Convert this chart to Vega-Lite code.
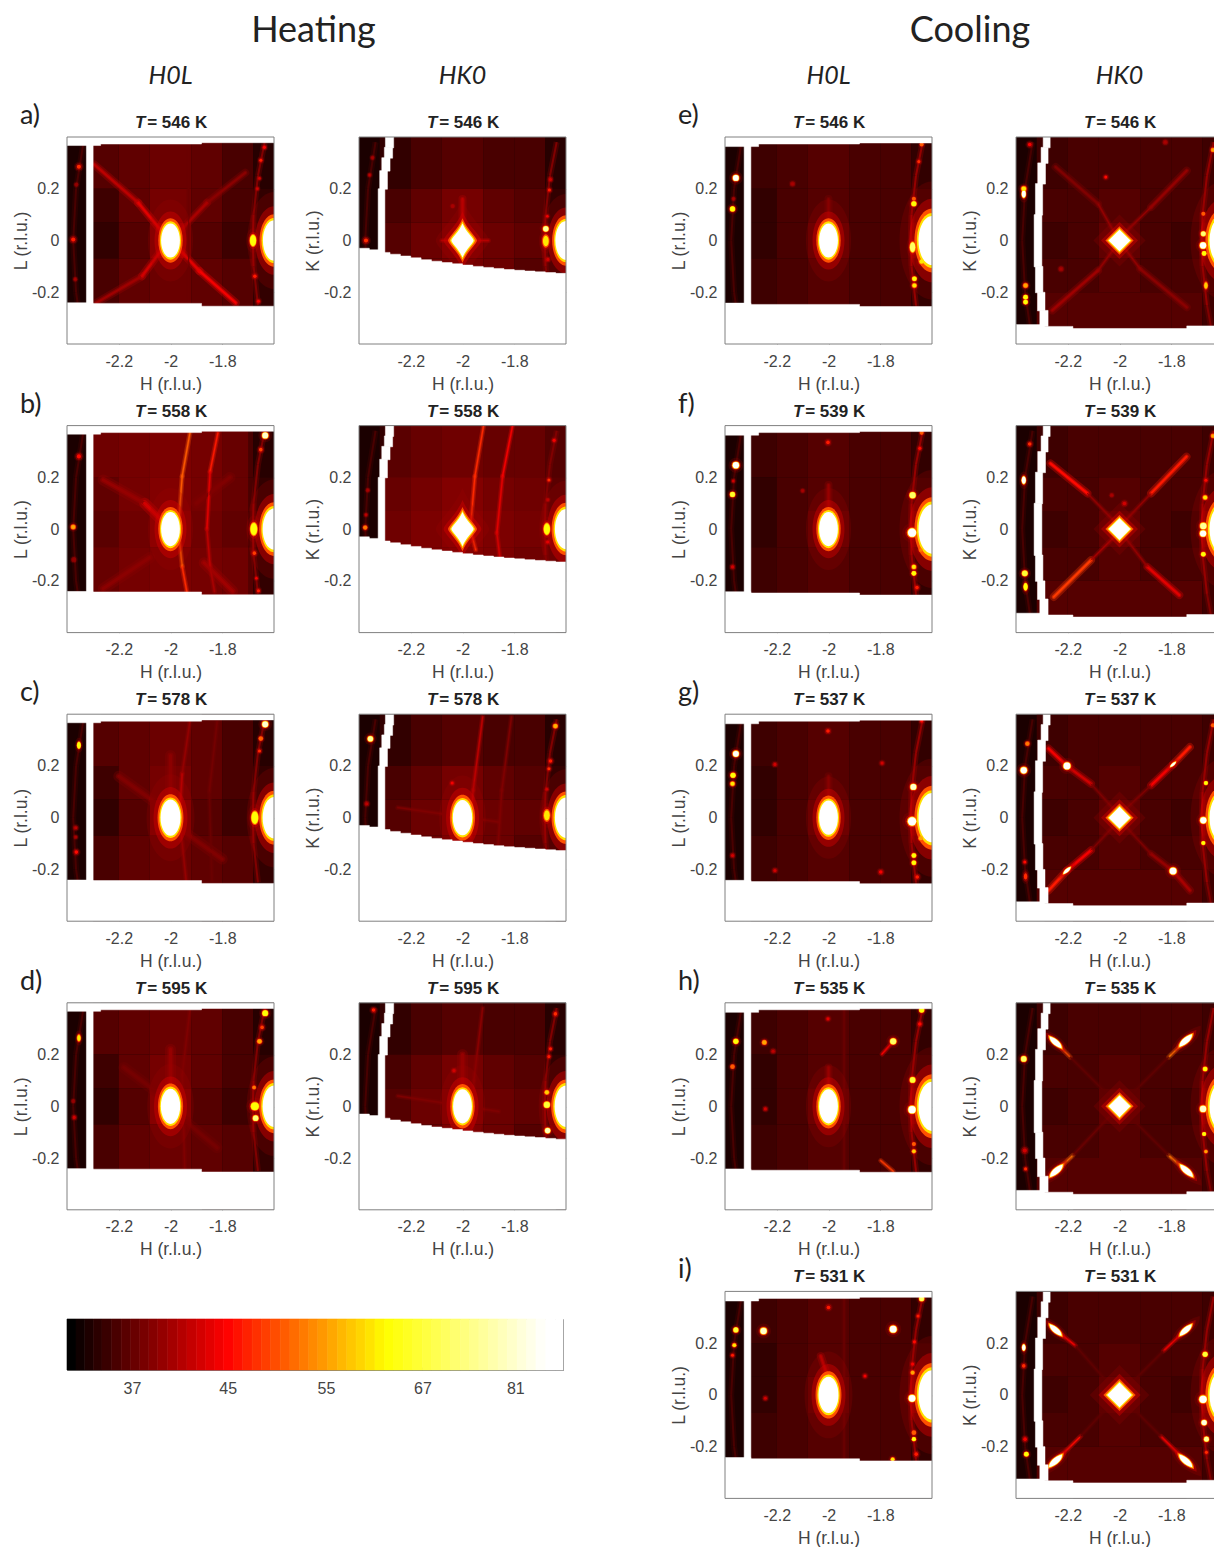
{"$schema":"https://vega.github.io/schema/vega-lite/v6.json","background":"white","padding":{"left":12,"top":12,"right":0,"bottom":0},"spacing":103,
"config":{"view":{"stroke":null},"axis":{"labelFont":"Liberation Sans","titleFont":"Liberation Sans","labelFontSize":16,"titleFontSize":17.5,"titleFontWeight":"normal","labelColor":"#444","titleColor":"#444","grid":true,"gridColor":"#888","gridOpacity":0.3,"domain":false,"tickColor":"#808080","tickSize":-3,"zindex":1,"labelPadding":11},"axisX":{"labelPadding":12,"titlePadding":6},"axisY":{"titlePadding":1}},
"datasets":{
"fr":[{"x":-2.4,"x2":-1.6,"y":-0.4,"y2":0.4,"v":33.5}],
"rh":[{"x":-1.636,"y":0.38,"x2":-1.662,"y2":0.25,"v":38},{"x":-1.662,"y":0.25,"x2":-1.679,"y2":0.1,"v":38},{"x":-1.679,"y":0.1,"x2":-1.682,"y2":0,"v":39},{"x":-1.682,"y":0,"x2":-1.679,"y2":-0.1,"v":39},{"x":-1.679,"y":-0.1,"x2":-1.662,"y2":-0.25,"v":38},{"x":-2.336,"y":0.38,"x2":-2.365,"y2":0.2,"v":35.5},{"x":-2.365,"y":0.2,"x2":-2.376,"y2":0,"v":35.5},{"x":-2.376,"y":0,"x2":-2.365,"y2":-0.2,"v":35.5},{"x":-2.365,"y":-0.2,"x2":-2.346,"y2":-0.33,"v":35.5}],
"rc":[{"x":-1.636,"y":0.38,"x2":-1.662,"y2":0.25,"v":39},{"x":-1.662,"y":0.25,"x2":-1.679,"y2":0.1,"v":39},{"x":-1.679,"y":0.1,"x2":-1.682,"y2":0,"v":40},{"x":-1.682,"y":0,"x2":-1.679,"y2":-0.1,"v":40},{"x":-1.679,"y":-0.1,"x2":-1.662,"y2":-0.25,"v":39},{"x":-1.662,"y":-0.25,"x2":-1.647,"y2":-0.33,"v":38},{"x":-2.336,"y":0.38,"x2":-2.365,"y2":0.2,"v":35.5},{"x":-2.365,"y":0.2,"x2":-2.376,"y2":0,"v":35.5},{"x":-2.376,"y":0,"x2":-2.365,"y2":-0.2,"v":35.5},{"x":-2.365,"y":-0.2,"x2":-2.346,"y2":-0.33,"v":35.5}],
"m1":[{"x":-2.4,"x2":-1.6,"y":0.378,"y2":0.4},{"x":-2.4,"x2":-1.88,"y":0.373,"y2":0.4},{"x":-2.4,"x2":-2.27,"y":0.367,"y2":0.4},{"x":-2.325,"x2":-2.299,"y":-0.4,"y2":0.4},{"x":-2.4,"x2":-1.6,"y":-0.4,"y2":-0.254},{"x":-2.4,"x2":-1.88,"y":-0.4,"y2":-0.243},{"x":-2.4,"x2":-2.3,"y":-0.4,"y2":-0.241}],
"m3":[{"x":-2.4,"x2":-1.6,"y":0.377,"y2":0.4},{"x":-2.4,"x2":-1.88,"y":0.373,"y2":0.4},{"x":-2.4,"x2":-2.27,"y":0.363,"y2":0.4},{"x":-2.326,"x2":-2.3,"y":-0.4,"y2":0.4},{"x":-2.4,"x2":-1.6,"y":-0.4,"y2":-0.255},{"x":-2.4,"x2":-1.88,"y":-0.4,"y2":-0.247},{"x":-2.4,"x2":-2.3,"y":-0.4,"y2":-0.242}],
"m2":[{"x":-2.298,"x2":-2.266,"y":0.358,"y2":0.4},{"x":-2.302,"x2":-2.27,"y":0.318,"y2":0.36},{"x":-2.312,"x2":-2.28,"y":0.268,"y2":0.32},{"x":-2.32,"x2":-2.29,"y":0.198,"y2":0.27},{"x":-2.326,"x2":-2.3,"y":-0.1,"y2":0.2},
{"x":-2.4,"x2":-1.6,"y":-0.4,"y2":-0.127},{"x":-2.4,"x2":-1.64,"y":-0.4,"y2":-0.124},{"x":-2.4,"x2":-1.68,"y":-0.4,"y2":-0.121},{"x":-2.4,"x2":-1.72,"y":-0.4,"y2":-0.118},{"x":-2.4,"x2":-1.76,"y":-0.4,"y2":-0.115},{"x":-2.4,"x2":-1.8,"y":-0.4,"y2":-0.112},{"x":-2.4,"x2":-1.84,"y":-0.4,"y2":-0.108},{"x":-2.4,"x2":-1.88,"y":-0.4,"y2":-0.104},{"x":-2.4,"x2":-1.92,"y":-0.4,"y2":-0.1},{"x":-2.4,"x2":-1.96,"y":-0.4,"y2":-0.095},{"x":-2.4,"x2":-2,"y":-0.4,"y2":-0.09},{"x":-2.4,"x2":-2.04,"y":-0.4,"y2":-0.085},{"x":-2.4,"x2":-2.08,"y":-0.4,"y2":-0.08},{"x":-2.4,"x2":-2.12,"y":-0.4,"y2":-0.074},{"x":-2.4,"x2":-2.16,"y":-0.4,"y2":-0.067},{"x":-2.4,"x2":-2.2,"y":-0.4,"y2":-0.06},{"x":-2.4,"x2":-2.24,"y":-0.4,"y2":-0.053},{"x":-2.4,"x2":-2.28,"y":-0.4,"y2":-0.046},{"x":-2.4,"x2":-2.32,"y":-0.4,"y2":-0.036},{"x":-2.4,"x2":-2.36,"y":-0.4,"y2":-0.03}],
"m4":[{"x":-2.295,"x2":-2.268,"y":0.358,"y2":0.4},{"x":-2.303,"x2":-2.276,"y":0.298,"y2":0.36},{"x":-2.316,"x2":-2.286,"y":0.218,"y2":0.3},{"x":-2.325,"x2":-2.297,"y":0.098,"y2":0.22},{"x":-2.33,"x2":-2.3,"y":-0.102,"y2":0.1},{"x":-2.325,"x2":-2.296,"y":-0.202,"y2":-0.1},{"x":-2.317,"x2":-2.288,"y":-0.272,"y2":-0.2},{"x":-2.308,"x2":-2.276,"y":-0.332,"y2":-0.27},{"x":-2.4,"x2":-1.6,"y":-0.4,"y2":-0.34},{"x":-2.4,"x2":-2.18,"y":-0.4,"y2":-0.332},{"x":-2.4,"x2":-2.29,"y":-0.4,"y2":-0.325},{"x":-1.74,"x2":-1.6,"y":-0.4,"y2":-0.33}],
"b1":[{"x":-2.32,"x2":-2.2,"y":0.2,"y2":0.4,"v":36},{"x":-2.2,"x2":-2.08,"y":0.2,"y2":0.4,"v":36.5},{"x":-2.08,"x2":-1.92,"y":0.2,"y2":0.4,"v":37},{"x":-1.92,"x2":-1.8,"y":0.2,"y2":0.4,"v":36.5},{"x":-1.8,"x2":-1.68,"y":0.2,"y2":0.4,"v":35.5},{"x":-1.68,"x2":-1.6,"y":0.2,"y2":0.4,"v":34},{"x":-2.32,"x2":-2.2,"y":0.07,"y2":0.2,"v":35},{"x":-2.2,"x2":-2.08,"y":0.07,"y2":0.2,"v":36.5},{"x":-2.08,"x2":-1.92,"y":0.07,"y2":0.2,"v":37.5},{"x":-1.92,"x2":-1.8,"y":0.07,"y2":0.2,"v":36.5},{"x":-1.8,"x2":-1.68,"y":0.07,"y2":0.2,"v":35.5},{"x":-1.68,"x2":-1.6,"y":0.07,"y2":0.2,"v":34.5},{"x":-2.32,"x2":-2.2,"y":-0.07,"y2":0.07,"v":34.5},{"x":-2.2,"x2":-2.08,"y":-0.07,"y2":0.07,"v":36},{"x":-2.08,"x2":-1.92,"y":-0.07,"y2":0.07,"v":38},{"x":-1.92,"x2":-1.8,"y":-0.07,"y2":0.07,"v":36},{"x":-1.8,"x2":-1.68,"y":-0.07,"y2":0.07,"v":35},{"x":-1.68,"x2":-1.6,"y":-0.07,"y2":0.07,"v":35},{"x":-2.32,"x2":-2.2,"y":-0.4,"y2":-0.07,"v":35.5},{"x":-2.2,"x2":-2.08,"y":-0.4,"y2":-0.07,"v":36.5},{"x":-2.08,"x2":-1.92,"y":-0.4,"y2":-0.07,"v":37},{"x":-1.92,"x2":-1.8,"y":-0.4,"y2":-0.07,"v":36.5},{"x":-1.8,"x2":-1.68,"y":-0.4,"y2":-0.07,"v":36},{"x":-1.68,"x2":-1.6,"y":-0.4,"y2":-0.07,"v":34.5}],
"b2":[{"x":-2.32,"x2":-2.2,"y":0.2,"y2":0.4,"v":34.5},{"x":-2.2,"x2":-2.08,"y":0.2,"y2":0.4,"v":35.5},{"x":-2.08,"x2":-1.92,"y":0.2,"y2":0.4,"v":36},{"x":-1.92,"x2":-1.8,"y":0.2,"y2":0.4,"v":35.5},{"x":-1.8,"x2":-1.68,"y":0.2,"y2":0.4,"v":35.5},{"x":-1.68,"x2":-1.6,"y":0.2,"y2":0.4,"v":34},{"x":-2.32,"x2":-2.2,"y":0.07,"y2":0.2,"v":35.5},{"x":-2.2,"x2":-2.08,"y":0.07,"y2":0.2,"v":36.5},{"x":-2.08,"x2":-1.92,"y":0.07,"y2":0.2,"v":37.5},{"x":-1.92,"x2":-1.8,"y":0.07,"y2":0.2,"v":36.5},{"x":-1.8,"x2":-1.68,"y":0.07,"y2":0.2,"v":36},{"x":-1.68,"x2":-1.6,"y":0.07,"y2":0.2,"v":34.5},{"x":-2.32,"x2":-2.2,"y":-0.07,"y2":0.07,"v":36},{"x":-2.2,"x2":-2.08,"y":-0.07,"y2":0.07,"v":37},{"x":-2.08,"x2":-1.92,"y":-0.07,"y2":0.07,"v":38},{"x":-1.92,"x2":-1.8,"y":-0.07,"y2":0.07,"v":37},{"x":-1.8,"x2":-1.68,"y":-0.07,"y2":0.07,"v":36.5},{"x":-1.68,"x2":-1.6,"y":-0.07,"y2":0.07,"v":35},{"x":-2.32,"x2":-2.2,"y":-0.4,"y2":-0.07,"v":36},{"x":-2.2,"x2":-2.08,"y":-0.4,"y2":-0.07,"v":37},{"x":-2.08,"x2":-1.92,"y":-0.4,"y2":-0.07,"v":37.5},{"x":-1.92,"x2":-1.8,"y":-0.4,"y2":-0.07,"v":37},{"x":-1.8,"x2":-1.68,"y":-0.4,"y2":-0.07,"v":36},{"x":-1.68,"x2":-1.6,"y":-0.4,"y2":-0.07,"v":35}],
"b3":[{"x":-2.32,"x2":-2.2,"y":0.2,"y2":0.4,"v":35},{"x":-2.2,"x2":-2.08,"y":0.2,"y2":0.4,"v":35.5},{"x":-2.08,"x2":-1.92,"y":0.2,"y2":0.4,"v":36},{"x":-1.92,"x2":-1.8,"y":0.2,"y2":0.4,"v":35.5},{"x":-1.8,"x2":-1.68,"y":0.2,"y2":0.4,"v":35.5},{"x":-1.68,"x2":-1.6,"y":0.2,"y2":0.4,"v":34.5},{"x":-2.32,"x2":-2.2,"y":0.07,"y2":0.2,"v":34.5},{"x":-2.2,"x2":-2.08,"y":0.07,"y2":0.2,"v":35.5},{"x":-2.08,"x2":-1.92,"y":0.07,"y2":0.2,"v":36},{"x":-1.92,"x2":-1.8,"y":0.07,"y2":0.2,"v":35.5},{"x":-1.8,"x2":-1.68,"y":0.07,"y2":0.2,"v":35.5},{"x":-1.68,"x2":-1.6,"y":0.07,"y2":0.2,"v":35},{"x":-2.32,"x2":-2.2,"y":-0.07,"y2":0.07,"v":34.5},{"x":-2.2,"x2":-2.08,"y":-0.07,"y2":0.07,"v":35.5},{"x":-2.08,"x2":-1.92,"y":-0.07,"y2":0.07,"v":36.5},{"x":-1.92,"x2":-1.8,"y":-0.07,"y2":0.07,"v":35.5},{"x":-1.8,"x2":-1.68,"y":-0.07,"y2":0.07,"v":35.5},{"x":-1.68,"x2":-1.6,"y":-0.07,"y2":0.07,"v":36},{"x":-2.32,"x2":-2.2,"y":-0.4,"y2":-0.07,"v":35},{"x":-2.2,"x2":-2.08,"y":-0.4,"y2":-0.07,"v":35.5},{"x":-2.08,"x2":-1.92,"y":-0.4,"y2":-0.07,"v":36},{"x":-1.92,"x2":-1.8,"y":-0.4,"y2":-0.07,"v":35.5},{"x":-1.8,"x2":-1.68,"y":-0.4,"y2":-0.07,"v":35.5},{"x":-1.68,"x2":-1.6,"y":-0.4,"y2":-0.07,"v":34.5}],
"b4":[{"x":-2.32,"x2":-2.2,"y":0.2,"y2":0.4,"v":35},{"x":-2.2,"x2":-2.08,"y":0.2,"y2":0.4,"v":35.5},{"x":-2.08,"x2":-1.92,"y":0.2,"y2":0.4,"v":35.5},{"x":-1.92,"x2":-1.8,"y":0.2,"y2":0.4,"v":35.5},{"x":-1.8,"x2":-1.68,"y":0.2,"y2":0.4,"v":35.5},{"x":-1.68,"x2":-1.6,"y":0.2,"y2":0.4,"v":35},{"x":-2.32,"x2":-2.2,"y":0.07,"y2":0.2,"v":35.5},{"x":-2.2,"x2":-2.08,"y":0.07,"y2":0.2,"v":35.5},{"x":-2.08,"x2":-1.92,"y":0.07,"y2":0.2,"v":36},{"x":-1.92,"x2":-1.8,"y":0.07,"y2":0.2,"v":35.5},{"x":-1.8,"x2":-1.68,"y":0.07,"y2":0.2,"v":35.5},{"x":-1.68,"x2":-1.6,"y":0.07,"y2":0.2,"v":35},{"x":-2.32,"x2":-2.2,"y":-0.07,"y2":0.07,"v":35},{"x":-2.2,"x2":-2.08,"y":-0.07,"y2":0.07,"v":35.5},{"x":-2.08,"x2":-1.92,"y":-0.07,"y2":0.07,"v":36.5},{"x":-1.92,"x2":-1.8,"y":-0.07,"y2":0.07,"v":35.5},{"x":-1.8,"x2":-1.68,"y":-0.07,"y2":0.07,"v":35},{"x":-1.68,"x2":-1.6,"y":-0.07,"y2":0.07,"v":36},{"x":-2.32,"x2":-2.2,"y":-0.2,"y2":-0.07,"v":35.5},{"x":-2.2,"x2":-2.08,"y":-0.2,"y2":-0.07,"v":35.5},{"x":-2.08,"x2":-1.92,"y":-0.2,"y2":-0.07,"v":36},{"x":-1.92,"x2":-1.8,"y":-0.2,"y2":-0.07,"v":35.5},{"x":-1.8,"x2":-1.68,"y":-0.2,"y2":-0.07,"v":35.5},{"x":-1.68,"x2":-1.6,"y":-0.2,"y2":-0.07,"v":35},{"x":-2.32,"x2":-2.2,"y":-0.4,"y2":-0.2,"v":36},{"x":-2.2,"x2":-1.8,"y":-0.4,"y2":-0.2,"v":36},{"x":-1.8,"x2":-1.68,"y":-0.4,"y2":-0.2,"v":36},{"x":-1.68,"x2":-1.6,"y":-0.4,"y2":-0.2,"v":35}],
"d1":[
{"p":"a","x":-2,"y":0,"T":"= 546 K","l":"a)","c":"H0L"},{"p":"b","x":-2,"y":0,"T":"= 558 K","l":"b)"},{"p":"c","x":-2,"y":0,"T":"= 578 K","l":"c)"},{"p":"d","x":-2,"y":0,"T":"= 595 K","l":"d)"},
{"p":"b","x":-2.3,"x2":-1.7,"y":-0.4,"y2":0.4,"v":39,"wash":1},
{"p":"a","x":-2.295,"y":0.294,"x2":-2.125,"y2":0.146,"v":41,"w":"m"},{"p":"a","x":-2.125,"y":0.146,"x2":-2.03,"y2":0.03,"v":43,"w":"m"},{"p":"a","x":-1.711,"y":0.262,"x2":-1.859,"y2":0.146,"v":38.5,"w":"m"},{"p":"a","x":-1.859,"y":0.146,"x2":-1.97,"y2":0.03,"v":40,"w":"m"},{"p":"a","x":-2.287,"y":-0.241,"x2":-2.11,"y2":-0.138,"v":39.5,"w":"m"},{"p":"a","x":-2.11,"y":-0.138,"x2":-2.03,"y2":-0.03,"v":42,"w":"m"},{"p":"a","x":-1.748,"y":-0.241,"x2":-1.888,"y2":-0.118,"v":44,"w":"m"},{"p":"a","x":-1.888,"y":-0.118,"x2":-1.97,"y2":-0.03,"v":43,"w":"m"},{"p":"a","x":-1.93,"y":0.37,"x2":-1.93,"y2":-0.24,"v":37,"w":"t"},
{"p":"b","x":-2.26,"y":0.19,"x2":-2.1,"y2":0.1,"v":39,"w":"b"},{"p":"b","x":-2.1,"y":0.1,"x2":-2.03,"y2":0.03,"v":42,"w":"b"},{"p":"b","x":-2.26,"y":-0.23,"x2":-2.08,"y2":-0.11,"v":38.5,"w":"b"},{"p":"b","x":-1.76,"y":-0.24,"x2":-1.87,"y2":-0.13,"v":39.5,"w":"b"},{"p":"b","x":-1.77,"y":0.2,"x2":-1.9,"y2":0.1,"v":38,"w":"b"},
{"p":"b","x":-1.925,"y":0.371,"x2":-1.955,"y2":0.204,"v":50,"w":"t"},{"p":"b","x":-1.955,"y":0.204,"x2":-1.97,"y2":0,"v":50,"w":"t"},{"p":"b","x":-1.97,"y":0,"x2":-1.955,"y2":-0.144,"v":50,"w":"t"},{"p":"b","x":-1.955,"y":-0.144,"x2":-1.937,"y2":-0.241,"v":47,"w":"t"},{"p":"b","x":-1.817,"y":0.371,"x2":-1.847,"y2":0.223,"v":46,"w":"t"},{"p":"b","x":-1.847,"y":0.223,"x2":-1.859,"y2":0,"v":43,"w":"t"},{"p":"b","x":-1.859,"y":0,"x2":-1.847,"y2":-0.144,"v":41,"w":"t"},{"p":"b","x":-1.847,"y":-0.144,"x2":-1.83,"y2":-0.241,"v":40,"w":"t"},
{"p":"c","x":-1.925,"y":0.371,"x2":-1.955,"y2":0.17,"v":39,"w":"t"},{"p":"c","x":-1.955,"y":0.17,"x2":-1.965,"y2":0,"v":41,"w":"t"},{"p":"c","x":-1.965,"y":0,"x2":-1.94,"y2":-0.24,"v":39,"w":"t"},{"p":"c","x":-1.82,"y":0.37,"x2":-1.85,"y2":0.1,"v":37.5,"w":"t"},{"p":"c","x":-1.85,"y":0.1,"x2":-1.84,"y2":-0.24,"v":37,"w":"t"},{"p":"c","x":-2,"y":0.24,"x2":-2,"y2":0.08,"v":38.5,"w":"b"},{"p":"c","x":-2.2,"y":0.16,"x2":-2.06,"y2":0.06,"v":38,"w":"b"},{"p":"c","x":-1.8,"y":-0.16,"x2":-1.94,"y2":-0.06,"v":38,"w":"b"},
{"p":"d","x":-1.925,"y":0.37,"x2":-1.955,"y2":0.12,"v":38,"w":"t"},{"p":"d","x":-1.955,"y":0.12,"x2":-1.945,"y2":-0.24,"v":38,"w":"t"},{"p":"d","x":-2,"y":0.22,"x2":-2,"y2":0.08,"v":39,"w":"b"},{"p":"d","x":-2.18,"y":0.15,"x2":-2.06,"y2":0.06,"v":37.5,"w":"b"},{"p":"d","x":-1.82,"y":-0.16,"x2":-1.94,"y2":-0.06,"v":37.5,"w":"b"},
{"p":"a","x":-2,"y":0,"v":89,"r":0.066,"s":"e"},{"p":"a","x":-1.6,"y":0,"v":89,"r":0.078,"s":"e"},{"p":"a","x":-1.681,"y":0,"v":62,"r":0.02,"s":"e"},{"p":"a","x":-1.637,"y":0.36,"v":44,"r":0.006,"s":"c"},{"p":"a","x":-1.651,"y":0.31,"v":46,"r":0.006,"s":"c"},{"p":"a","x":-1.656,"y":0.24,"v":42,"r":0.005,"s":"c"},{"p":"a","x":-1.664,"y":0.2,"v":42,"r":0.005,"s":"c"},{"p":"a","x":-1.674,"y":-0.138,"v":46,"r":0.007,"s":"c"},{"p":"a","x":-1.66,"y":-0.235,"v":44,"r":0.006,"s":"c"},{"p":"a","x":-2.354,"y":0.285,"v":47,"r":0.008,"s":"c"},{"p":"a","x":-2.376,"y":0.004,"v":46,"r":0.008,"s":"c"},{"p":"a","x":-2.364,"y":0.216,"v":39,"r":0.005,"s":"c"},{"p":"a","x":-2.368,"y":-0.15,"v":40,"r":0.005,"s":"c"},
{"p":"b","x":-2,"y":0,"v":89,"r":0.066,"s":"e"},{"p":"b","x":-1.6,"y":0,"v":89,"r":0.08,"s":"e"},{"p":"b","x":-1.634,"y":0.362,"v":80,"r":0.011,"s":"c"},{"p":"b","x":-1.651,"y":0.307,"v":48,"r":0.007,"s":"c"},{"p":"b","x":-1.678,"y":0,"v":62,"r":0.022,"s":"e"},{"p":"b","x":-1.676,"y":-0.093,"v":48,"r":0.007,"s":"c"},{"p":"b","x":-1.668,"y":-0.19,"v":44,"r":0.005,"s":"c"},{"p":"b","x":-1.66,"y":-0.238,"v":46,"r":0.006,"s":"c"},{"p":"b","x":-2.376,"y":0.008,"v":55,"r":0.008,"s":"c"},{"p":"b","x":-2.354,"y":0.281,"v":45,"r":0.008,"s":"c"},{"p":"b","x":-2.374,"y":-0.118,"v":39,"r":0.006,"s":"c"},
{"p":"c","x":-2,"y":0,"v":89,"r":0.07,"s":"e"},{"p":"c","x":-1.6,"y":0,"v":89,"r":0.08,"s":"e"},{"p":"c","x":-1.634,"y":0.361,"v":80,"r":0.011,"s":"c"},{"p":"c","x":-1.651,"y":0.306,"v":50,"r":0.007,"s":"c"},{"p":"c","x":-1.656,"y":0.258,"v":47,"r":0.006,"s":"c"},{"p":"c","x":-1.674,"y":0,"v":62,"r":0.022,"s":"e"},{"p":"c","x":-2.354,"y":0.28,"v":62,"r":0.012,"s":"e"},{"p":"c","x":-2.366,"y":-0.039,"v":41,"r":0.006,"s":"c"},{"p":"c","x":-2.366,"y":-0.075,"v":40,"r":0.005,"s":"c"},{"p":"c","x":-2.364,"y":-0.133,"v":45,"r":0.007,"s":"c"},
{"p":"d","x":-2,"y":0,"v":89,"r":0.068,"s":"e"},{"p":"d","x":-1.6,"y":0,"v":89,"r":0.08,"s":"e"},{"p":"d","x":-1.634,"y":0.36,"v":62,"r":0.01,"s":"c"},{"p":"d","x":-1.646,"y":0.305,"v":48,"r":0.007,"s":"c"},{"p":"d","x":-1.656,"y":0.251,"v":55,"r":0.008,"s":"c"},{"p":"d","x":-1.677,"y":0.073,"v":52,"r":0.006,"s":"c"},{"p":"d","x":-1.674,"y":0,"v":62,"r":0.014,"s":"c"},{"p":"d","x":-1.671,"y":-0.046,"v":72,"r":0.01,"s":"c"},{"p":"d","x":-2.354,"y":0.264,"v":60,"r":0.012,"s":"e"},{"p":"d","x":-2.372,"y":-0.043,"v":42,"r":0.006,"s":"c"},{"p":"d","x":-2.376,"y":0.02,"v":39,"r":0.005,"s":"c"}],
"d2":[
{"p":"a","x":-2,"y":0,"T":"= 546 K","c":"HK0"},{"p":"b","x":-2,"y":0,"T":"= 558 K"},{"p":"c","x":-2,"y":0,"T":"= 578 K"},{"p":"d","x":-2,"y":0,"T":"= 595 K"},
{"p":"b","x":-2.3,"x2":-1.6,"y":-0.4,"y2":0.4,"v":39,"wash":1},
{"p":"a","x":-2,"y":0.16,"x2":-2,"y2":0.06,"v":41,"w":"m"},{"p":"a","x":-2.08,"y":0,"x2":-1.9,"y2":0,"v":41,"w":"t"},
{"p":"b","x":-1.919,"y":0.397,"x2":-1.952,"y2":0.204,"v":47,"w":"t"},{"p":"b","x":-1.952,"y":0.204,"x2":-1.97,"y2":0,"v":47,"w":"t"},{"p":"b","x":-1.97,"y":0,"x2":-1.949,"y2":-0.08,"v":47,"w":"t"},{"p":"b","x":-1.807,"y":0.397,"x2":-1.845,"y2":0.204,"v":44,"w":"t"},{"p":"b","x":-1.845,"y":0.204,"x2":-1.867,"y2":-0.015,"v":43,"w":"t"},{"p":"b","x":-1.867,"y":-0.015,"x2":-1.856,"y2":-0.106,"v":42,"w":"t"},
{"p":"c","x":-1.922,"y":0.389,"x2":-1.959,"y2":0.106,"v":41,"w":"t"},{"p":"c","x":-1.959,"y":0.106,"x2":-1.97,"y2":-0.075,"v":41,"w":"t"},{"p":"c","x":-1.811,"y":0.389,"x2":-1.848,"y2":0.106,"v":38,"w":"t"},{"p":"c","x":-1.848,"y":0.106,"x2":-1.863,"y2":-0.114,"v":38,"w":"t"},{"p":"c","x":-2.25,"y":0.039,"x2":-1.86,"y2":-0.017,"v":38,"w":"t"},
{"p":"d","x":-1.922,"y":0.38,"x2":-1.956,"y2":0.1,"v":38.5,"w":"t"},{"p":"d","x":-1.956,"y":0.1,"x2":-1.96,"y2":-0.09,"v":38.5,"w":"t"},{"p":"d","x":-2.25,"y":0.04,"x2":-1.86,"y2":-0.02,"v":38,"w":"t"},{"p":"d","x":-2,"y":0.2,"x2":-2,"y2":0.08,"v":39,"w":"b"},
{"p":"a","x":-2,"y":0,"v":89,"r":0.066,"s":"h"},{"p":"a","x":-1.6,"y":0,"v":89,"r":0.075,"s":"e"},{"p":"a","x":-1.678,"y":0.045,"v":75,"r":0.01,"s":"c"},{"p":"a","x":-1.678,"y":-0.002,"v":60,"r":0.02,"s":"e"},{"p":"a","x":-1.67,"y":-0.073,"v":42,"r":0.006,"s":"c"},{"p":"a","x":-1.66,"y":0.236,"v":42,"r":0.006,"s":"c"},{"p":"a","x":-1.664,"y":0.195,"v":46,"r":0.006,"s":"c"},{"p":"a","x":-1.672,"y":0.094,"v":44,"r":0.005,"s":"c"},{"p":"a","x":-2.373,"y":0,"v":47,"r":0.008,"s":"c"},{"p":"a","x":-2.359,"y":0.253,"v":41,"r":0.005,"s":"c"},{"p":"a","x":-2.348,"y":0.32,"v":40,"r":0.005,"s":"c"},{"p":"a","x":-2.038,"y":0.133,"v":40,"r":0.005,"s":"c"},
{"p":"b","x":-2,"y":0,"v":89,"r":0.066,"s":"h"},{"p":"b","x":-1.6,"y":0,"v":89,"r":0.078,"s":"e"},{"p":"b","x":-1.646,"y":0.343,"v":44,"r":0.006,"s":"c"},{"p":"b","x":-1.666,"y":0.19,"v":47,"r":0.006,"s":"c"},{"p":"b","x":-1.67,"y":0.113,"v":41,"r":0.005,"s":"c"},{"p":"b","x":-1.674,"y":0,"v":62,"r":0.02,"s":"e"},{"p":"b","x":-1.671,"y":-0.05,"v":43,"r":0.006,"s":"c"},{"p":"b","x":-2.376,"y":0.006,"v":52,"r":0.007,"s":"c"},{"p":"b","x":-2.373,"y":0.055,"v":41,"r":0.005,"s":"c"},{"p":"b","x":-2.366,"y":0.15,"v":40,"r":0.005,"s":"c"},
{"p":"c","x":-2,"y":0,"v":89,"r":0.068,"s":"e"},{"p":"c","x":-1.6,"y":0,"v":89,"r":0.078,"s":"e"},{"p":"c","x":-1.641,"y":0.354,"v":56,"r":0.008,"s":"c"},{"p":"c","x":-1.66,"y":0.219,"v":46,"r":0.007,"s":"c"},{"p":"c","x":-1.666,"y":0.189,"v":47,"r":0.006,"s":"c"},{"p":"c","x":-1.674,"y":0.11,"v":42,"r":0.005,"s":"c"},{"p":"c","x":-1.674,"y":0.009,"v":60,"r":0.02,"s":"e"},{"p":"c","x":-2.356,"y":0.305,"v":75,"r":0.01,"s":"c"},{"p":"c","x":-2.37,"y":0.054,"v":41,"r":0.006,"s":"c"},{"p":"c","x":-2.04,"y":0.134,"v":44,"r":0.006,"s":"c"},
{"p":"d","x":-2,"y":0,"v":89,"r":0.066,"s":"e"},{"p":"d","x":-1.6,"y":0,"v":89,"r":0.08,"s":"e"},{"p":"d","x":-1.641,"y":0.357,"v":47,"r":0.007,"s":"c"},{"p":"d","x":-1.66,"y":0.222,"v":46,"r":0.006,"s":"c"},{"p":"d","x":-1.666,"y":0.192,"v":46,"r":0.006,"s":"c"},{"p":"d","x":-1.674,"y":0.054,"v":58,"r":0.008,"s":"c"},{"p":"d","x":-1.674,"y":0.006,"v":66,"r":0.011,"s":"c"},{"p":"d","x":-1.671,"y":-0.094,"v":78,"r":0.01,"s":"c"},{"p":"d","x":-2.344,"y":0.372,"v":46,"r":0.007,"s":"c"},{"p":"d","x":-2.033,"y":0.138,"v":42,"r":0.006,"s":"c"}],
"d3":[
{"p":"e","x":-2,"y":0,"T":"= 546 K","l":"e)","c":"H0L"},{"p":"f","x":-2,"y":0,"T":"= 539 K","l":"f)"},{"p":"g","x":-2,"y":0,"T":"= 537 K","l":"g)"},{"p":"h","x":-2,"y":0,"T":"= 535 K","l":"h)"},{"p":"i","x":-2,"y":0,"T":"= 531 K","l":"i)"},
{"p":"e","x":-2,"y":0.16,"x2":-2,"y2":0.06,"v":38,"w":"m"},{"p":"f","x":-2,"y":0.17,"x2":-2,"y2":0.06,"v":39,"w":"m"},{"p":"g","x":-2,"y":0.16,"x2":-2,"y2":0.06,"v":38,"w":"m"},{"p":"h","x":-2,"y":0.15,"x2":-2,"y2":0.06,"v":39,"w":"m"},{"p":"i","x":-2.03,"y":0.15,"x2":-2,"y2":0.06,"v":41,"w":"m"},
{"p":"h","x":-1.793,"y":0.202,"x2":-1.75,"y2":0.251,"v":44,"w":"t"},{"p":"h","x":-1.798,"y":-0.21,"x2":-1.75,"y2":-0.251,"v":48,"w":"t"},{"p":"h","x":-1.94,"y":0.37,"x2":-1.94,"y2":-0.25,"v":37,"w":"t"},{"p":"i","x":-1.94,"y":0.37,"x2":-1.94,"y2":-0.25,"v":37,"w":"t"},
{"p":"e","x":-2,"y":0,"v":89,"r":0.066,"s":"e"},{"p":"e","x":-1.6,"y":0,"v":89,"r":0.095,"s":"e"},{"p":"e","x":-2.358,"y":0.242,"v":85,"r":0.011,"s":"c"},{"p":"e","x":-2.371,"y":0.122,"v":62,"r":0.009,"s":"c"},{"p":"e","x":-2.367,"y":0.161,"v":40,"r":0.005,"s":"c"},{"p":"e","x":-1.675,"y":-0.026,"v":70,"r":0.018,"s":"e"},{"p":"e","x":-1.67,"y":0.142,"v":62,"r":0.009,"s":"c"},{"p":"e","x":-1.67,"y":0.161,"v":50,"r":0.006,"s":"c"},{"p":"e","x":-1.668,"y":-0.148,"v":62,"r":0.008,"s":"c"},{"p":"e","x":-1.668,"y":-0.174,"v":60,"r":0.008,"s":"c"},{"p":"e","x":-1.64,"y":-0.081,"v":60,"r":0.009,"s":"c"},{"p":"e","x":-1.64,"y":0.371,"v":50,"r":0.006,"s":"c"},{"p":"e","x":-1.651,"y":0.305,"v":47,"r":0.006,"s":"c"},{"p":"e","x":-2.139,"y":0.219,"v":40,"r":0.006,"s":"c"},
{"p":"f","x":-2,"y":0,"v":89,"r":0.066,"s":"e"},{"p":"f","x":-1.6,"y":0,"v":89,"r":0.095,"s":"e"},{"p":"f","x":-2.358,"y":0.247,"v":88,"r":0.012,"s":"c"},{"p":"f","x":-2.371,"y":0.134,"v":65,"r":0.009,"s":"c"},{"p":"f","x":-2.368,"y":0.186,"v":42,"r":0.005,"s":"c"},{"p":"f","x":-2.002,"y":0.335,"v":46,"r":0.007,"s":"c"},{"p":"f","x":-1.675,"y":0.131,"v":70,"r":0.011,"s":"c"},{"p":"f","x":-1.677,"y":-0.014,"v":89,"r":0.016,"s":"c"},{"p":"f","x":-1.643,"y":-0.081,"v":52,"r":0.007,"s":"c"},{"p":"f","x":-1.67,"y":-0.146,"v":60,"r":0.008,"s":"c"},{"p":"f","x":-1.67,"y":-0.171,"v":62,"r":0.008,"s":"c"},{"p":"f","x":-1.658,"y":-0.226,"v":46,"r":0.007,"s":"c"},{"p":"f","x":-1.64,"y":0.372,"v":50,"r":0.006,"s":"c"},{"p":"f","x":-1.647,"y":0.312,"v":45,"r":0.006,"s":"c"},{"p":"f","x":-2.371,"y":-0.146,"v":42,"r":0.006,"s":"c"},{"p":"f","x":-2.1,"y":0.148,"v":40,"r":0.005,"s":"c"},
{"p":"g","x":-2,"y":0,"v":89,"r":0.066,"s":"e"},{"p":"g","x":-1.6,"y":0,"v":89,"r":0.095,"s":"e"},{"p":"g","x":-2.358,"y":0.247,"v":85,"r":0.011,"s":"c"},{"p":"g","x":-2.369,"y":0.164,"v":62,"r":0.009,"s":"c"},{"p":"g","x":-2.371,"y":0.131,"v":60,"r":0.008,"s":"c"},{"p":"g","x":-2.002,"y":0.335,"v":46,"r":0.007,"s":"c"},{"p":"g","x":-2.207,"y":0.206,"v":42,"r":0.006,"s":"c"},{"p":"g","x":-1.793,"y":0.211,"v":42,"r":0.006,"s":"c"},{"p":"g","x":-1.672,"y":0.119,"v":80,"r":0.011,"s":"c"},{"p":"g","x":-1.677,"y":-0.014,"v":89,"r":0.016,"s":"c"},{"p":"g","x":-1.643,"y":-0.079,"v":55,"r":0.008,"s":"c"},{"p":"g","x":-1.67,"y":-0.146,"v":62,"r":0.008,"s":"c"},{"p":"g","x":-1.67,"y":-0.174,"v":62,"r":0.008,"s":"c"},{"p":"g","x":-1.657,"y":-0.229,"v":46,"r":0.007,"s":"c"},{"p":"g","x":-2.207,"y":-0.204,"v":42,"r":0.006,"s":"c"},{"p":"g","x":-1.798,"y":-0.21,"v":44,"r":0.007,"s":"c"},{"p":"g","x":-1.64,"y":0.374,"v":45,"r":0.006,"s":"c"},{"p":"g","x":-2.371,"y":-0.146,"v":42,"r":0.006,"s":"c"},
{"p":"h","x":-2,"y":0,"v":89,"r":0.066,"s":"e"},{"p":"h","x":-1.6,"y":0,"v":89,"r":0.095,"s":"e"},{"p":"h","x":-2.358,"y":0.251,"v":62,"r":0.009,"s":"c"},{"p":"h","x":-2.371,"y":0.153,"v":50,"r":0.007,"s":"c"},{"p":"h","x":-2.248,"y":0.247,"v":55,"r":0.008,"s":"c"},{"p":"h","x":-2.214,"y":0.213,"v":41,"r":0.006,"s":"c"},{"p":"h","x":-1.75,"y":0.251,"v":70,"r":0.011,"s":"c"},{"p":"h","x":-2.244,"y":-0.01,"v":42,"r":0.006,"s":"c"},{"p":"h","x":-2.002,"y":0.338,"v":43,"r":0.006,"s":"c"},{"p":"h","x":-1.675,"y":0.102,"v":66,"r":0.01,"s":"c"},{"p":"h","x":-1.677,"y":-0.013,"v":85,"r":0.014,"s":"c"},{"p":"h","x":-1.67,"y":-0.146,"v":50,"r":0.006,"s":"c"},{"p":"h","x":-1.67,"y":-0.174,"v":58,"r":0.007,"s":"c"},{"p":"h","x":-1.64,"y":0.372,"v":62,"r":0.009,"s":"c"},{"p":"h","x":-1.647,"y":0.318,"v":45,"r":0.007,"s":"c"},
{"p":"i","x":-2,"y":0,"v":89,"r":0.07,"s":"e"},{"p":"i","x":-1.6,"y":0,"v":89,"r":0.095,"s":"e"},{"p":"i","x":-2.358,"y":0.251,"v":66,"r":0.009,"s":"c"},{"p":"i","x":-2.364,"y":0.192,"v":60,"r":0.007,"s":"c"},{"p":"i","x":-2.371,"y":0.153,"v":46,"r":0.006,"s":"c"},{"p":"i","x":-2.251,"y":0.247,"v":80,"r":0.012,"s":"c"},{"p":"i","x":-1.75,"y":0.254,"v":85,"r":0.013,"s":"c"},{"p":"i","x":-2,"y":0.338,"v":46,"r":0.007,"s":"c"},{"p":"i","x":-1.859,"y":0.073,"v":44,"r":0.006,"s":"c"},{"p":"i","x":-1.677,"y":-0.013,"v":88,"r":0.013,"s":"c"},{"p":"i","x":-1.675,"y":0.086,"v":55,"r":0.007,"s":"c"},{"p":"i","x":-1.675,"y":0.119,"v":44,"r":0.006,"s":"c"},{"p":"i","x":-1.668,"y":0.205,"v":45,"r":0.006,"s":"c"},{"p":"i","x":-1.654,"y":0.305,"v":46,"r":0.006,"s":"c"},{"p":"i","x":-1.64,"y":0.372,"v":70,"r":0.009,"s":"c"},{"p":"i","x":-1.67,"y":-0.146,"v":50,"r":0.007,"s":"c"},{"p":"i","x":-1.67,"y":-0.171,"v":62,"r":0.007,"s":"c"},{"p":"i","x":-1.661,"y":-0.229,"v":46,"r":0.007,"s":"c"},{"p":"i","x":-1.752,"y":-0.249,"v":60,"r":0.007,"s":"c"},{"p":"i","x":-2.244,"y":-0.013,"v":42,"r":0.006,"s":"c"}],
"d4":[
{"p":"e","x":-2,"y":0,"T":"= 546 K","c":"HK0"},{"p":"f","x":-2,"y":0,"T":"= 539 K"},{"p":"g","x":-2,"y":0,"T":"= 537 K"},{"p":"h","x":-2,"y":0,"T":"= 535 K"},{"p":"i","x":-2,"y":0,"T":"= 531 K"},
{"p":"e","x":-2.247,"y":0.284,"x2":-2.083,"y2":0.142,"v":38,"w":"m"},{"p":"e","x":-2.083,"y":0.142,"x2":-2.02,"y2":0.03,"v":39,"w":"t"},{"p":"e","x":-2.26,"y":-0.27,"x2":-2.083,"y2":-0.116,"v":39.5,"w":"m"},{"p":"e","x":-2.083,"y":-0.116,"x2":-2.02,"y2":-0.03,"v":39,"w":"t"},{"p":"e","x":-1.74,"y":-0.258,"x2":-1.92,"y2":-0.11,"v":38.5,"w":"m"},{"p":"e","x":-1.92,"y":-0.11,"x2":-1.98,"y2":-0.03,"v":39,"w":"t"},{"p":"e","x":-1.74,"y":0.27,"x2":-1.878,"y2":0.129,"v":39,"w":"m"},{"p":"e","x":-1.878,"y":0.129,"x2":-1.98,"y2":0.03,"v":39,"w":"t"},
{"p":"f","x":-2.267,"y":0.254,"x2":-2.124,"y2":0.138,"v":45,"w":"m"},{"p":"f","x":-2.124,"y":0.138,"x2":-2.02,"y2":0.03,"v":39,"w":"t"},{"p":"f","x":-1.741,"y":0.28,"x2":-1.878,"y2":0.138,"v":46,"w":"m"},{"p":"f","x":-1.878,"y":0.138,"x2":-1.98,"y2":0.03,"v":39,"w":"t"},{"p":"f","x":-2.254,"y":-0.262,"x2":-2.11,"y2":-0.12,"v":48,"w":"m"},{"p":"f","x":-2.11,"y":-0.12,"x2":-2.02,"y2":-0.03,"v":40,"w":"t"},{"p":"f","x":-1.769,"y":-0.255,"x2":-1.892,"y2":-0.146,"v":43,"w":"m"},{"p":"f","x":-1.892,"y":-0.146,"x2":-1.98,"y2":-0.03,"v":39,"w":"t"},
{"p":"g","x":-2.274,"y":0.267,"x2":-2.203,"y2":0.2,"v":44,"w":"m"},{"p":"g","x":-2.203,"y":0.2,"x2":-2.11,"y2":0.131,"v":42,"w":"m"},{"p":"g","x":-2.11,"y":0.131,"x2":-2.02,"y2":0.03,"v":38,"w":"t"},{"p":"g","x":-1.728,"y":0.273,"x2":-1.793,"y2":0.206,"v":46,"w":"m"},{"p":"g","x":-1.793,"y":0.206,"x2":-1.878,"y2":0.125,"v":44,"w":"m"},{"p":"g","x":-1.878,"y":0.125,"x2":-1.98,"y2":0.03,"v":38,"w":"t"},{"p":"g","x":-2.274,"y":-0.281,"x2":-2.203,"y2":-0.204,"v":46,"w":"m"},{"p":"g","x":-2.203,"y":-0.204,"x2":-2.11,"y2":-0.126,"v":44,"w":"m"},{"p":"g","x":-2.11,"y":-0.126,"x2":-2.02,"y2":-0.03,"v":38,"w":"t"},{"p":"g","x":-1.728,"y":-0.281,"x2":-1.793,"y2":-0.206,"v":40,"w":"m"},{"p":"g","x":-1.793,"y":-0.206,"x2":-1.878,"y2":-0.14,"v":39,"w":"m"},{"p":"g","x":-1.878,"y":-0.14,"x2":-1.98,"y2":-0.03,"v":38,"w":"t"},
{"p":"h","x":-2.247,"y":0.247,"x2":-2.19,"y2":0.19,"v":50,"w":"t"},{"p":"h","x":-2.19,"y":0.19,"x2":-2.03,"y2":0.03,"v":36.5,"w":"t"},{"p":"h","x":-1.744,"y":0.254,"x2":-1.81,"y2":0.19,"v":52,"w":"t"},{"p":"h","x":-1.81,"y":0.19,"x2":-1.97,"y2":0.03,"v":36.5,"w":"t"},{"p":"h","x":-2.244,"y":-0.249,"x2":-2.18,"y2":-0.19,"v":52,"w":"t"},{"p":"h","x":-2.18,"y":-0.19,"x2":-2.03,"y2":-0.03,"v":37,"w":"t"},{"p":"h","x":-1.741,"y":-0.249,"x2":-1.81,"y2":-0.19,"v":52,"w":"t"},{"p":"h","x":-1.81,"y":-0.19,"x2":-1.97,"y2":-0.03,"v":36.5,"w":"t"},
{"p":"i","x":-2.247,"y":0.251,"x2":-2.17,"y2":0.19,"v":44,"w":"t"},{"p":"i","x":-2.17,"y":0.19,"x2":-2.03,"y2":0.03,"v":36.5,"w":"t"},{"p":"i","x":-1.744,"y":0.251,"x2":-1.83,"y2":0.17,"v":44,"w":"t"},{"p":"i","x":-1.83,"y":0.17,"x2":-1.97,"y2":0.03,"v":36.5,"w":"t"},{"p":"i","x":-2.247,"y":-0.255,"x2":-2.15,"y2":-0.16,"v":45,"w":"t"},{"p":"i","x":-2.15,"y":-0.16,"x2":-2.03,"y2":-0.03,"v":36.5,"w":"t"},{"p":"i","x":-1.744,"y":-0.255,"x2":-1.84,"y2":-0.16,"v":44,"w":"t"},{"p":"i","x":-1.84,"y":-0.16,"x2":-1.97,"y2":-0.03,"v":36.5,"w":"t"},
{"p":"e","x":-2,"y":0,"v":89,"r":0.042,"s":"d"},{"p":"e","x":-1.6,"y":0,"v":89,"r":0.095,"s":"e"},{"p":"e","x":-2.37,"y":0.18,"v":85,"r":0.014,"s":"e"},{"p":"e","x":-2.37,"y":0.2,"v":60,"r":0.009,"s":"c"},{"p":"e","x":-2.363,"y":-0.174,"v":55,"r":0.008,"s":"c"},{"p":"e","x":-2.363,"y":-0.219,"v":62,"r":0.008,"s":"c"},{"p":"e","x":-2.363,"y":-0.238,"v":62,"r":0.008,"s":"c"},{"p":"e","x":-2.347,"y":0.371,"v":44,"r":0.007,"s":"c"},{"p":"e","x":-2.053,"y":0.245,"v":45,"r":0.006,"s":"c"},{"p":"e","x":-1.823,"y":0.38,"v":40,"r":0.006,"s":"c"},{"p":"e","x":-1.639,"y":0.35,"v":55,"r":0.007,"s":"c"},{"p":"e","x":-1.676,"y":0.103,"v":50,"r":0.006,"s":"c"},{"p":"e","x":-1.676,"y":0.026,"v":72,"r":0.009,"s":"c"},{"p":"e","x":-1.677,"y":-0.019,"v":85,"r":0.012,"s":"c"},{"p":"e","x":-1.673,"y":-0.05,"v":62,"r":0.008,"s":"c"},{"p":"e","x":-1.666,"y":-0.174,"v":58,"r":0.012,"s":"e"},{"p":"e","x":-2.226,"y":-0.11,"v":40,"r":0.006,"s":"c"},
{"p":"f","x":-2,"y":0,"v":89,"r":0.042,"s":"d"},{"p":"f","x":-1.6,"y":0,"v":89,"r":0.095,"s":"e"},{"p":"f","x":-2.37,"y":0.189,"v":85,"r":0.014,"s":"e"},{"p":"f","x":-2.366,"y":-0.171,"v":66,"r":0.01,"s":"c"},{"p":"f","x":-2.363,"y":-0.223,"v":62,"r":0.013,"s":"e"},{"p":"f","x":-2.347,"y":0.329,"v":47,"r":0.007,"s":"c"},{"p":"f","x":-1.639,"y":0.36,"v":55,"r":0.007,"s":"c"},{"p":"f","x":-1.669,"y":0.122,"v":60,"r":0.008,"s":"c"},{"p":"f","x":-1.666,"y":0.189,"v":45,"r":0.006,"s":"c"},{"p":"f","x":-1.676,"y":0.012,"v":75,"r":0.012,"s":"c"},{"p":"f","x":-1.677,"y":-0.017,"v":85,"r":0.012,"s":"c"},{"p":"f","x":-1.676,"y":-0.097,"v":62,"r":0.008,"s":"c"},{"p":"f","x":-1.981,"y":0.099,"v":42,"r":0.007,"s":"c"},{"p":"f","x":-2.03,"y":0.131,"v":40,"r":0.005,"s":"c"},
{"p":"g","x":-2,"y":0,"v":89,"r":0.042,"s":"d"},{"p":"g","x":-1.6,"y":0,"v":89,"r":0.095,"s":"e"},{"p":"g","x":-2.203,"y":0.2,"v":89,"r":0.013,"s":"c"},{"p":"g","x":-1.793,"y":0.206,"v":89,"r":0.014,"s":"p"},{"p":"g","x":-2.203,"y":-0.204,"v":89,"r":0.018,"s":"p"},{"p":"g","x":-1.793,"y":-0.206,"v":89,"r":0.013,"s":"c"},{"p":"g","x":-2.37,"y":0.183,"v":85,"r":0.012,"s":"c"},{"p":"g","x":-2.356,"y":0.286,"v":52,"r":0.007,"s":"c"},{"p":"g","x":-2.366,"y":-0.171,"v":45,"r":0.006,"s":"c"},{"p":"g","x":-2.363,"y":-0.227,"v":47,"r":0.012,"s":"e"},{"p":"g","x":-1.676,"y":-0.01,"v":88,"r":0.012,"s":"c"},{"p":"g","x":-1.666,"y":0.134,"v":62,"r":0.007,"s":"c"},{"p":"g","x":-1.676,"y":-0.098,"v":62,"r":0.007,"s":"c"},{"p":"g","x":-1.639,"y":0.357,"v":50,"r":0.006,"s":"c"},
{"p":"h","x":-2,"y":0,"v":89,"r":0.042,"s":"d"},{"p":"h","x":-1.6,"y":0,"v":89,"r":0.095,"s":"e"},{"p":"h","x":-2.247,"y":0.247,"v":89,"r":0.03,"s":"n"},{"p":"h","x":-1.744,"y":0.254,"v":89,"r":0.032,"s":"p"},{"p":"h","x":-2.244,"y":-0.249,"v":89,"r":0.032,"s":"p"},{"p":"h","x":-1.741,"y":-0.249,"v":89,"r":0.032,"s":"n"},{"p":"h","x":-2.37,"y":0.183,"v":70,"r":0.01,"s":"c"},{"p":"h","x":-2.363,"y":-0.242,"v":47,"r":0.006,"s":"c"},{"p":"h","x":-2.366,"y":-0.171,"v":42,"r":0.008,"s":"c"},{"p":"h","x":-1.669,"y":0.144,"v":62,"r":0.008,"s":"c"},{"p":"h","x":-1.677,"y":-0.01,"v":80,"r":0.012,"s":"c"},{"p":"h","x":-1.673,"y":-0.107,"v":62,"r":0.007,"s":"c"},{"p":"h","x":-1.666,"y":-0.175,"v":55,"r":0.006,"s":"c"},
{"p":"i","x":-2,"y":0,"v":89,"r":0.048,"s":"d"},{"p":"i","x":-1.6,"y":0,"v":89,"r":0.095,"s":"e"},{"p":"i","x":-2.247,"y":0.251,"v":89,"r":0.03,"s":"n"},{"p":"i","x":-1.744,"y":0.251,"v":89,"r":0.03,"s":"p"},{"p":"i","x":-2.247,"y":-0.255,"v":89,"r":0.033,"s":"p"},{"p":"i","x":-1.744,"y":-0.255,"v":89,"r":0.033,"s":"n"},{"p":"i","x":-2.37,"y":0.183,"v":85,"r":0.012,"s":"e"},{"p":"i","x":-2.37,"y":0.112,"v":47,"r":0.007,"s":"c"},{"p":"i","x":-2.36,"y":-0.229,"v":62,"r":0.008,"s":"c"},{"p":"i","x":-2.365,"y":-0.171,"v":44,"r":0.007,"s":"c"},{"p":"i","x":-1.669,"y":0.157,"v":66,"r":0.009,"s":"c"},{"p":"i","x":-1.677,"y":-0.017,"v":85,"r":0.014,"s":"c"},{"p":"i","x":-1.673,"y":-0.107,"v":82,"r":0.01,"s":"c"},{"p":"i","x":-1.664,"y":-0.171,"v":75,"r":0.009,"s":"c"},{"p":"i","x":-1.664,"y":-0.222,"v":47,"r":0.006,"s":"c"}],
"cb":[{"v":32.4,"v2":33,"k":"a"},{"v":33,"v2":33.6,"k":"a"},{"v":33.6,"v2":34.2,"k":"a"},{"v":34.2,"v2":34.8,"k":"a"},{"v":34.8,"v2":35.5,"k":"a"},{"v":35.5,"v2":36.2,"k":"a"},{"v":36.2,"v2":36.9,"k":"a"},{"v":36.9,"v2":37.6,"k":"a"},{"v":37.6,"v2":38.3,"k":"a"},{"v":38.3,"v2":39,"k":"a"},{"v":39,"v2":39.8,"k":"a"},{"v":39.8,"v2":40.6,"k":"a"},{"v":40.6,"v2":41.4,"k":"a"},{"v":41.4,"v2":42.2,"k":"a"},{"v":42.2,"v2":43,"k":"a"},{"v":43,"v2":43.8,"k":"a"},{"v":43.8,"v2":44.6,"k":"a"},{"v":44.6,"v2":45.5,"k":"a"},{"v":45.5,"v2":46.4,"k":"a"},{"v":46.4,"v2":47.3,"k":"a"},{"v":47.3,"v2":48.2,"k":"a"},{"v":48.2,"v2":49.1,"k":"a"},{"v":49.1,"v2":50.1,"k":"a"},{"v":50.1,"v2":51.1,"k":"a"},{"v":51.1,"v2":52.1,"k":"a"},{"v":52.1,"v2":53.1,"k":"a"},{"v":53.1,"v2":54.1,"k":"a"},{"v":54.1,"v2":55.2,"k":"a"},{"v":55.2,"v2":56.3,"k":"a"},{"v":56.3,"v2":57.4,"k":"a"},{"v":57.4,"v2":58.5,"k":"a"},{"v":58.5,"v2":59.6,"k":"a"},{"v":59.6,"v2":60.8,"k":"a"},{"v":60.8,"v2":62,"k":"a"},{"v":62,"v2":63.2,"k":"a"},{"v":63.2,"v2":64.4,"k":"a"},{"v":64.4,"v2":65.7,"k":"a"},{"v":65.7,"v2":67,"k":"a"},{"v":67,"v2":68.3,"k":"a"},{"v":68.3,"v2":69.6,"k":"a"},{"v":69.6,"v2":71,"k":"a"},{"v":71,"v2":72.4,"k":"a"},{"v":72.4,"v2":73.8,"k":"a"},{"v":73.8,"v2":75.2,"k":"a"},{"v":75.2,"v2":76.7,"k":"a"},{"v":76.7,"v2":78.2,"k":"a"},{"v":78.2,"v2":79.7,"k":"a"},{"v":79.7,"v2":81.3,"k":"a"},{"v":81.3,"v2":82.9,"k":"a"},{"v":82.9,"v2":84.5,"k":"a"},{"v":84.5,"v2":86.2,"k":"a"},{"v":86.2,"v2":87.9,"k":"a"},{"v":87.9,"v2":89.3,"k":"a"}]},
"hconcat":[
{"spacing":59,"vconcat":[{"title":{"text":"Heating","font":"Lato","fontSize":36,"fontWeight":"normal","color":"#222","anchor":"middle","offset":14,"dx":24},"spacing":29,"hconcat":[
{"data":{"name":"d1"},"bounds":"flush","spacing":81.6,"resolve":{"axis":{"x":"independent"}},"facet":{"row":{"field":"p","type":"nominal","header":null}},"spec":{"width":207,"height":207,
"encoding":{"x":{"field":"x","type":"quantitative","title":"H (r.l.u.)","scale":{"domain":[-2.4,-1.6],"nice":false,"zero":false},"axis":{"values":[-2.2,-2,-1.8],"labelExpr":"''+datum.value"}},"y":{"field":"y","type":"quantitative","title":"L (r.l.u.)","scale":{"domain":[-0.4,0.4],"nice":false,"zero":false},"axis":{"values":[-0.2,0,0.2],"labelExpr":"''+datum.value"}},"color":{"field":"v","type":"quantitative","scale":{"type":"log","interpolate":"rgb","domain":[32.4,44.5,61.7,85.2],"range":["#000000","#ff0000","#ffff00","#ffffff"]},"legend":null}},
"layer":[
{"data":{"name":"fr"},"mark":{"type":"rect"},"encoding":{"x2":{"field":"x2"},"y2":{"field":"y2"}}},
{"data":{"name":"b1"},"mark":{"type":"rect"},"encoding":{"x2":{"field":"x2"},"y2":{"field":"y2"}}},
{"transform":[{"filter":"datum.wash"}],"mark":{"type":"rect","opacity":0.4},"encoding":{"x2":{"field":"x2"},"y2":{"field":"y2"}}},
{"data":{"name":"rh"},"encoding":{"x2":{"field":"x2"},"y2":{"field":"y2"}},"layer":[{"mark":{"type":"rule","strokeWidth":6,"opacity":0.35,"clip":true}},{"mark":{"type":"rule","strokeWidth":2,"clip":true}}]},
{"transform":[{"filter":"datum.w"}],"resolve":{"scale":{"size":"independent"}},"encoding":{"x2":{"field":"x2"},"y2":{"field":"y2"}},"layer":[{"mark":{"type":"rule","opacity":0.3,"strokeCap":"round","clip":true},"encoding":{"size":{"field":"w","type":"ordinal","scale":{"domain":["t","m","b"],"range":[5,11,20]},"legend":null}}},{"mark":{"type":"rule","opacity":0.55,"strokeCap":"round","clip":true},"encoding":{"size":{"field":"w","type":"ordinal","scale":{"domain":["t","m","b"],"range":[2.5,6,11]},"legend":null}}},{"mark":{"type":"rule","strokeCap":"round","clip":true},"encoding":{"size":{"field":"w","type":"ordinal","scale":{"domain":["t","m","b"],"range":[1,3,5]},"legend":null}}}]},
{"transform":[{"filter":"datum.r"}],"resolve":{"scale":{"size":"independent"}},"encoding":{"shape":{"field":"s","type":"nominal","legend":null,"scale":{"domain":["c","e","h","d","p","n"],"range":["circle","M0,-1C.304,-1,.55,-.552,.55,0C.55,.552,.304,1,0,1C-.304,1,-.55,.552,-.55,0C-.55,-.552,-.304,-1,0,-1Z","M0,-1C.2,-.5,.65,-.15,.65,0C.65,.15,.2,.5,0,1C-.2,.5,-.65,.15,-.65,0C-.65,-.15,-.2,-.5,0,-1Z","M0,-1L1,0L0,1L-1,0Z","M.75,-.75C.8,-.2,.2,.5,-.75,.75C-.8,.2,-.2,-.5,.75,-.75Z","M-.75,-.75C-.8,-.2,-.2,.5,.75,.75C.8,.2,.2,-.5,-.75,-.75Z"]}}},"layer":[
{"mark":{"type":"point","filled":true,"opacity":0.22,"clip":true},"encoding":{"color":{"value":"#a00000"},"size":{"field":"r","type":"quantitative","legend":null,"scale":{"type":"pow","exponent":2,"domain":[0,0.1],"range":[0,15426]}}}},
{"mark":{"type":"point","filled":true,"opacity":0.45,"clip":true},"encoding":{"color":{"value":"#d00000"},"size":{"field":"r","type":"quantitative","legend":null,"scale":{"type":"pow","exponent":2,"domain":[0,0.1],"range":[0,7740]}}}},
{"transform":[{"filter":"datum.v>=50"}],"mark":{"type":"point","filled":true,"opacity":1,"clip":true},"encoding":{"color":{"value":"#ff5000"},"size":{"field":"r","type":"quantitative","legend":null,"scale":{"type":"pow","exponent":2,"domain":[0,0.1],"range":[0,4526]}}}},
{"transform":[{"filter":"datum.v>=62"}],"mark":{"type":"point","filled":true,"opacity":1,"clip":true},"encoding":{"color":{"value":"#ffe000"},"size":{"field":"r","type":"quantitative","legend":null,"scale":{"type":"pow","exponent":2,"domain":[0,0.1],"range":[0,3360]}}}},
{"mark":{"type":"point","filled":true,"opacity":1,"clip":true},"encoding":{"size":{"field":"r","type":"quantitative","legend":null,"scale":{"type":"pow","exponent":2,"domain":[0,0.1],"range":[0,2678]}}}}]},
{"data":{"name":"m1"},"mark":{"type":"rect","stroke":"white","strokeWidth":0.5},"encoding":{"color":{"value":"white"},"x2":{"field":"x2"},"y2":{"field":"y2"}}},
{"data":{"name":"fr"},"mark":{"type":"rect","filled":false},"encoding":{"color":{"value":"#808080"},"x2":{"field":"x2"},"y2":{"field":"y2"}}},
{"transform":[{"filter":"datum.T"}],"encoding":{"y":{"datum":0.454},"color":{"value":"#222"}},"layer":[{"mark":{"type":"text","font":"Liberation Sans","fontWeight":"bold","fontStyle":"italic","fontSize":17,"align":"left"},"encoding":{"x":{"datum":-2.137},"text":{"value":"T"}}},{"mark":{"type":"text","font":"Liberation Sans","fontWeight":"bold","fontSize":17,"align":"left"},"encoding":{"x":{"datum":-2.09},"text":{"field":"T"}}}]},
{"transform":[{"filter":"datum.l"}],"mark":{"type":"text","font":"Lato","fontSize":27,"align":"left"},"encoding":{"color":{"value":"#222"},"x":{"datum":-2.582},"y":{"datum":0.481},"text":{"field":"l"}}},
{"transform":[{"filter":"datum.c"}],"mark":{"type":"text","font":"Lato","fontStyle":"italic","fontSize":25},"encoding":{"color":{"value":"#222"},"x":{"datum":-2},"y":{"datum":0.636},"text":{"field":"c"}}}]}},
{"data":{"name":"d2"},"bounds":"flush","spacing":81.6,"resolve":{"axis":{"x":"independent"}},"facet":{"row":{"field":"p","type":"nominal","header":null}},"spec":{"width":207,"height":207,
"encoding":{"x":{"field":"x","type":"quantitative","title":"H (r.l.u.)","scale":{"domain":[-2.4,-1.6],"nice":false,"zero":false},"axis":{"values":[-2.2,-2,-1.8],"labelExpr":"''+datum.value"}},"y":{"field":"y","type":"quantitative","title":"K (r.l.u.)","scale":{"domain":[-0.4,0.4],"nice":false,"zero":false},"axis":{"values":[-0.2,0,0.2],"labelExpr":"''+datum.value"}},"color":{"field":"v","type":"quantitative","scale":{"type":"log","interpolate":"rgb","domain":[32.4,44.5,61.7,85.2],"range":["#000000","#ff0000","#ffff00","#ffffff"]},"legend":null}},
"layer":[
{"data":{"name":"fr"},"mark":{"type":"rect"},"encoding":{"x2":{"field":"x2"},"y2":{"field":"y2"}}},
{"data":{"name":"b2"},"mark":{"type":"rect"},"encoding":{"x2":{"field":"x2"},"y2":{"field":"y2"}}},
{"transform":[{"filter":"datum.wash"}],"mark":{"type":"rect","opacity":0.4},"encoding":{"x2":{"field":"x2"},"y2":{"field":"y2"}}},
{"data":{"name":"rh"},"encoding":{"x2":{"field":"x2"},"y2":{"field":"y2"}},"layer":[{"mark":{"type":"rule","strokeWidth":6,"opacity":0.35,"clip":true}},{"mark":{"type":"rule","strokeWidth":2,"clip":true}}]},
{"transform":[{"filter":"datum.w"}],"resolve":{"scale":{"size":"independent"}},"encoding":{"x2":{"field":"x2"},"y2":{"field":"y2"}},"layer":[{"mark":{"type":"rule","opacity":0.3,"strokeCap":"round","clip":true},"encoding":{"size":{"field":"w","type":"ordinal","scale":{"domain":["t","m","b"],"range":[5,11,20]},"legend":null}}},{"mark":{"type":"rule","opacity":0.55,"strokeCap":"round","clip":true},"encoding":{"size":{"field":"w","type":"ordinal","scale":{"domain":["t","m","b"],"range":[2.5,6,11]},"legend":null}}},{"mark":{"type":"rule","strokeCap":"round","clip":true},"encoding":{"size":{"field":"w","type":"ordinal","scale":{"domain":["t","m","b"],"range":[1,3,5]},"legend":null}}}]},
{"transform":[{"filter":"datum.r"}],"resolve":{"scale":{"size":"independent"}},"encoding":{"shape":{"field":"s","type":"nominal","legend":null,"scale":{"domain":["c","e","h","d","p","n"],"range":["circle","M0,-1C.304,-1,.55,-.552,.55,0C.55,.552,.304,1,0,1C-.304,1,-.55,.552,-.55,0C-.55,-.552,-.304,-1,0,-1Z","M0,-1C.2,-.5,.65,-.15,.65,0C.65,.15,.2,.5,0,1C-.2,.5,-.65,.15,-.65,0C-.65,-.15,-.2,-.5,0,-1Z","M0,-1L1,0L0,1L-1,0Z","M.75,-.75C.8,-.2,.2,.5,-.75,.75C-.8,.2,-.2,-.5,.75,-.75Z","M-.75,-.75C-.8,-.2,-.2,.5,.75,.75C.8,.2,.2,-.5,-.75,-.75Z"]}}},"layer":[
{"mark":{"type":"point","filled":true,"opacity":0.22,"clip":true},"encoding":{"color":{"value":"#a00000"},"size":{"field":"r","type":"quantitative","legend":null,"scale":{"type":"pow","exponent":2,"domain":[0,0.1],"range":[0,15426]}}}},
{"mark":{"type":"point","filled":true,"opacity":0.45,"clip":true},"encoding":{"color":{"value":"#d00000"},"size":{"field":"r","type":"quantitative","legend":null,"scale":{"type":"pow","exponent":2,"domain":[0,0.1],"range":[0,7740]}}}},
{"transform":[{"filter":"datum.v>=50"}],"mark":{"type":"point","filled":true,"opacity":1,"clip":true},"encoding":{"color":{"value":"#ff5000"},"size":{"field":"r","type":"quantitative","legend":null,"scale":{"type":"pow","exponent":2,"domain":[0,0.1],"range":[0,4526]}}}},
{"transform":[{"filter":"datum.v>=62"}],"mark":{"type":"point","filled":true,"opacity":1,"clip":true},"encoding":{"color":{"value":"#ffe000"},"size":{"field":"r","type":"quantitative","legend":null,"scale":{"type":"pow","exponent":2,"domain":[0,0.1],"range":[0,3360]}}}},
{"mark":{"type":"point","filled":true,"opacity":1,"clip":true},"encoding":{"size":{"field":"r","type":"quantitative","legend":null,"scale":{"type":"pow","exponent":2,"domain":[0,0.1],"range":[0,2678]}}}}]},
{"data":{"name":"m2"},"mark":{"type":"rect","stroke":"white","strokeWidth":0.5},"encoding":{"color":{"value":"white"},"x2":{"field":"x2"},"y2":{"field":"y2"}}},
{"data":{"name":"fr"},"mark":{"type":"rect","filled":false},"encoding":{"color":{"value":"#808080"},"x2":{"field":"x2"},"y2":{"field":"y2"}}},
{"transform":[{"filter":"datum.T"}],"encoding":{"y":{"datum":0.454},"color":{"value":"#222"}},"layer":[{"mark":{"type":"text","font":"Liberation Sans","fontWeight":"bold","fontStyle":"italic","fontSize":17,"align":"left"},"encoding":{"x":{"datum":-2.137},"text":{"value":"T"}}},{"mark":{"type":"text","font":"Liberation Sans","fontWeight":"bold","fontSize":17,"align":"left"},"encoding":{"x":{"datum":-2.09},"text":{"field":"T"}}}]},
{"transform":[{"filter":"datum.c"}],"mark":{"type":"text","font":"Lato","fontStyle":"italic","fontSize":25},"encoding":{"color":{"value":"#222"},"x":{"datum":-2},"y":{"datum":0.636},"text":{"field":"c"}}}]}}]},
{"width":496,"height":51,"view":{"stroke":"#808080"},"data":{"name":"cb"},"mark":{"type":"rect","strokeWidth":0.6},"encoding":{"y":{"field":"k","type":"nominal","axis":{"title":"","labels":false,"ticks":false,"grid":false,"minExtent":50}},"x":{"field":"v","type":"quantitative","scale":{"type":"log","domain":[32.4,89.3],"nice":false},"axis":{"values":[37,45,55,67,81],"title":null,"grid":false,"labelPadding":13}},"x2":{"field":"v2"},"color":{"field":"v","type":"quantitative","scale":{"type":"log","interpolate":"rgb","domain":[32.4,44.5,61.7,85.2],"range":["#000000","#ff0000","#ffff00","#ffffff"]},"legend":null},"stroke":{"field":"v","type":"quantitative","scale":{"type":"log","interpolate":"rgb","domain":[32.4,44.5,61.7,85.2],"range":["#000000","#ff0000","#ffff00","#ffffff"]},"legend":null}}}]},
{"title":{"text":"Cooling","font":"Lato","fontSize":36,"fontWeight":"normal","color":"#222","anchor":"middle","offset":14,"dx":23},"spacing":28,"hconcat":[
{"data":{"name":"d3"},"bounds":"flush","spacing":81.6,"resolve":{"axis":{"x":"independent"}},"facet":{"row":{"field":"p","type":"nominal","header":null}},"spec":{"width":207,"height":207,
"encoding":{"x":{"field":"x","type":"quantitative","title":"H (r.l.u.)","scale":{"domain":[-2.4,-1.6],"nice":false,"zero":false},"axis":{"values":[-2.2,-2,-1.8],"labelExpr":"''+datum.value"}},"y":{"field":"y","type":"quantitative","title":"L (r.l.u.)","scale":{"domain":[-0.4,0.4],"nice":false,"zero":false},"axis":{"values":[-0.2,0,0.2],"labelExpr":"''+datum.value"}},"color":{"field":"v","type":"quantitative","scale":{"type":"log","interpolate":"rgb","domain":[32.4,44.5,61.7,85.2],"range":["#000000","#ff0000","#ffff00","#ffffff"]},"legend":null}},
"layer":[
{"data":{"name":"fr"},"mark":{"type":"rect"},"encoding":{"x2":{"field":"x2"},"y2":{"field":"y2"}}},
{"data":{"name":"b3"},"mark":{"type":"rect"},"encoding":{"x2":{"field":"x2"},"y2":{"field":"y2"}}},
{"data":{"name":"rc"},"encoding":{"x2":{"field":"x2"},"y2":{"field":"y2"}},"layer":[{"mark":{"type":"rule","strokeWidth":6,"opacity":0.35,"clip":true}},{"mark":{"type":"rule","strokeWidth":2,"clip":true}}]},
{"transform":[{"filter":"datum.w"}],"resolve":{"scale":{"size":"independent"}},"encoding":{"x2":{"field":"x2"},"y2":{"field":"y2"}},"layer":[{"mark":{"type":"rule","opacity":0.3,"strokeCap":"round","clip":true},"encoding":{"size":{"field":"w","type":"ordinal","scale":{"domain":["t","m","b"],"range":[5,11,20]},"legend":null}}},{"mark":{"type":"rule","opacity":0.55,"strokeCap":"round","clip":true},"encoding":{"size":{"field":"w","type":"ordinal","scale":{"domain":["t","m","b"],"range":[2.5,6,11]},"legend":null}}},{"mark":{"type":"rule","strokeCap":"round","clip":true},"encoding":{"size":{"field":"w","type":"ordinal","scale":{"domain":["t","m","b"],"range":[1,3,5]},"legend":null}}}]},
{"transform":[{"filter":"datum.r"}],"resolve":{"scale":{"size":"independent"}},"encoding":{"shape":{"field":"s","type":"nominal","legend":null,"scale":{"domain":["c","e","h","d","p","n"],"range":["circle","M0,-1C.304,-1,.55,-.552,.55,0C.55,.552,.304,1,0,1C-.304,1,-.55,.552,-.55,0C-.55,-.552,-.304,-1,0,-1Z","M0,-1C.2,-.5,.65,-.15,.65,0C.65,.15,.2,.5,0,1C-.2,.5,-.65,.15,-.65,0C-.65,-.15,-.2,-.5,0,-1Z","M0,-1L1,0L0,1L-1,0Z","M.75,-.75C.8,-.2,.2,.5,-.75,.75C-.8,.2,-.2,-.5,.75,-.75Z","M-.75,-.75C-.8,-.2,-.2,.5,.75,.75C.8,.2,.2,-.5,-.75,-.75Z"]}}},"layer":[
{"mark":{"type":"point","filled":true,"opacity":0.22,"clip":true},"encoding":{"color":{"value":"#a00000"},"size":{"field":"r","type":"quantitative","legend":null,"scale":{"type":"pow","exponent":2,"domain":[0,0.1],"range":[0,15426]}}}},
{"mark":{"type":"point","filled":true,"opacity":0.45,"clip":true},"encoding":{"color":{"value":"#d00000"},"size":{"field":"r","type":"quantitative","legend":null,"scale":{"type":"pow","exponent":2,"domain":[0,0.1],"range":[0,7740]}}}},
{"transform":[{"filter":"datum.v>=50"}],"mark":{"type":"point","filled":true,"opacity":1,"clip":true},"encoding":{"color":{"value":"#ff5000"},"size":{"field":"r","type":"quantitative","legend":null,"scale":{"type":"pow","exponent":2,"domain":[0,0.1],"range":[0,4526]}}}},
{"transform":[{"filter":"datum.v>=62"}],"mark":{"type":"point","filled":true,"opacity":1,"clip":true},"encoding":{"color":{"value":"#ffe000"},"size":{"field":"r","type":"quantitative","legend":null,"scale":{"type":"pow","exponent":2,"domain":[0,0.1],"range":[0,3360]}}}},
{"mark":{"type":"point","filled":true,"opacity":1,"clip":true},"encoding":{"size":{"field":"r","type":"quantitative","legend":null,"scale":{"type":"pow","exponent":2,"domain":[0,0.1],"range":[0,2678]}}}}]},
{"data":{"name":"m3"},"mark":{"type":"rect","stroke":"white","strokeWidth":0.5},"encoding":{"color":{"value":"white"},"x2":{"field":"x2"},"y2":{"field":"y2"}}},
{"data":{"name":"fr"},"mark":{"type":"rect","filled":false},"encoding":{"color":{"value":"#808080"},"x2":{"field":"x2"},"y2":{"field":"y2"}}},
{"transform":[{"filter":"datum.T"}],"encoding":{"y":{"datum":0.454},"color":{"value":"#222"}},"layer":[{"mark":{"type":"text","font":"Liberation Sans","fontWeight":"bold","fontStyle":"italic","fontSize":17,"align":"left"},"encoding":{"x":{"datum":-2.137},"text":{"value":"T"}}},{"mark":{"type":"text","font":"Liberation Sans","fontWeight":"bold","fontSize":17,"align":"left"},"encoding":{"x":{"datum":-2.09},"text":{"field":"T"}}}]},
{"transform":[{"filter":"datum.l"}],"mark":{"type":"text","font":"Lato","fontSize":27,"align":"left"},"encoding":{"color":{"value":"#222"},"x":{"datum":-2.582},"y":{"datum":0.481},"text":{"field":"l"}}},
{"transform":[{"filter":"datum.c"}],"mark":{"type":"text","font":"Lato","fontStyle":"italic","fontSize":25},"encoding":{"color":{"value":"#222"},"x":{"datum":-2},"y":{"datum":0.636},"text":{"field":"c"}}}]}},
{"data":{"name":"d4"},"bounds":"flush","spacing":81.6,"resolve":{"axis":{"x":"independent"}},"facet":{"row":{"field":"p","type":"nominal","header":null}},"spec":{"width":207,"height":207,
"encoding":{"x":{"field":"x","type":"quantitative","title":"H (r.l.u.)","scale":{"domain":[-2.4,-1.6],"nice":false,"zero":false},"axis":{"values":[-2.2,-2,-1.8],"labelExpr":"''+datum.value"}},"y":{"field":"y","type":"quantitative","title":"K (r.l.u.)","scale":{"domain":[-0.4,0.4],"nice":false,"zero":false},"axis":{"values":[-0.2,0,0.2],"labelExpr":"''+datum.value"}},"color":{"field":"v","type":"quantitative","scale":{"type":"log","interpolate":"rgb","domain":[32.4,44.5,61.7,85.2],"range":["#000000","#ff0000","#ffff00","#ffffff"]},"legend":null}},
"layer":[
{"data":{"name":"fr"},"mark":{"type":"rect"},"encoding":{"x2":{"field":"x2"},"y2":{"field":"y2"}}},
{"data":{"name":"b4"},"mark":{"type":"rect"},"encoding":{"x2":{"field":"x2"},"y2":{"field":"y2"}}},
{"data":{"name":"rc"},"encoding":{"x2":{"field":"x2"},"y2":{"field":"y2"}},"layer":[{"mark":{"type":"rule","strokeWidth":6,"opacity":0.35,"clip":true}},{"mark":{"type":"rule","strokeWidth":2,"clip":true}}]},
{"transform":[{"filter":"datum.w"}],"resolve":{"scale":{"size":"independent"}},"encoding":{"x2":{"field":"x2"},"y2":{"field":"y2"}},"layer":[{"mark":{"type":"rule","opacity":0.3,"strokeCap":"round","clip":true},"encoding":{"size":{"field":"w","type":"ordinal","scale":{"domain":["t","m","b"],"range":[5,11,20]},"legend":null}}},{"mark":{"type":"rule","opacity":0.55,"strokeCap":"round","clip":true},"encoding":{"size":{"field":"w","type":"ordinal","scale":{"domain":["t","m","b"],"range":[2.5,6,11]},"legend":null}}},{"mark":{"type":"rule","strokeCap":"round","clip":true},"encoding":{"size":{"field":"w","type":"ordinal","scale":{"domain":["t","m","b"],"range":[1,3,5]},"legend":null}}}]},
{"transform":[{"filter":"datum.r"}],"resolve":{"scale":{"size":"independent"}},"encoding":{"shape":{"field":"s","type":"nominal","legend":null,"scale":{"domain":["c","e","h","d","p","n"],"range":["circle","M0,-1C.304,-1,.55,-.552,.55,0C.55,.552,.304,1,0,1C-.304,1,-.55,.552,-.55,0C-.55,-.552,-.304,-1,0,-1Z","M0,-1C.2,-.5,.65,-.15,.65,0C.65,.15,.2,.5,0,1C-.2,.5,-.65,.15,-.65,0C-.65,-.15,-.2,-.5,0,-1Z","M0,-1L1,0L0,1L-1,0Z","M.75,-.75C.8,-.2,.2,.5,-.75,.75C-.8,.2,-.2,-.5,.75,-.75Z","M-.75,-.75C-.8,-.2,-.2,.5,.75,.75C.8,.2,.2,-.5,-.75,-.75Z"]}}},"layer":[
{"mark":{"type":"point","filled":true,"opacity":0.22,"clip":true},"encoding":{"color":{"value":"#a00000"},"size":{"field":"r","type":"quantitative","legend":null,"scale":{"type":"pow","exponent":2,"domain":[0,0.1],"range":[0,15426]}}}},
{"mark":{"type":"point","filled":true,"opacity":0.45,"clip":true},"encoding":{"color":{"value":"#d00000"},"size":{"field":"r","type":"quantitative","legend":null,"scale":{"type":"pow","exponent":2,"domain":[0,0.1],"range":[0,7740]}}}},
{"transform":[{"filter":"datum.v>=50"}],"mark":{"type":"point","filled":true,"opacity":1,"clip":true},"encoding":{"color":{"value":"#ff5000"},"size":{"field":"r","type":"quantitative","legend":null,"scale":{"type":"pow","exponent":2,"domain":[0,0.1],"range":[0,4526]}}}},
{"transform":[{"filter":"datum.v>=62"}],"mark":{"type":"point","filled":true,"opacity":1,"clip":true},"encoding":{"color":{"value":"#ffe000"},"size":{"field":"r","type":"quantitative","legend":null,"scale":{"type":"pow","exponent":2,"domain":[0,0.1],"range":[0,3360]}}}},
{"mark":{"type":"point","filled":true,"opacity":1,"clip":true},"encoding":{"size":{"field":"r","type":"quantitative","legend":null,"scale":{"type":"pow","exponent":2,"domain":[0,0.1],"range":[0,2678]}}}}]},
{"data":{"name":"m4"},"mark":{"type":"rect","stroke":"white","strokeWidth":0.5},"encoding":{"color":{"value":"white"},"x2":{"field":"x2"},"y2":{"field":"y2"}}},
{"data":{"name":"fr"},"mark":{"type":"rect","filled":false},"encoding":{"color":{"value":"#808080"},"x2":{"field":"x2"},"y2":{"field":"y2"}}},
{"transform":[{"filter":"datum.T"}],"encoding":{"y":{"datum":0.454},"color":{"value":"#222"}},"layer":[{"mark":{"type":"text","font":"Liberation Sans","fontWeight":"bold","fontStyle":"italic","fontSize":17,"align":"left"},"encoding":{"x":{"datum":-2.137},"text":{"value":"T"}}},{"mark":{"type":"text","font":"Liberation Sans","fontWeight":"bold","fontSize":17,"align":"left"},"encoding":{"x":{"datum":-2.09},"text":{"field":"T"}}}]},
{"transform":[{"filter":"datum.c"}],"mark":{"type":"text","font":"Lato","fontStyle":"italic","fontSize":25},"encoding":{"color":{"value":"#222"},"x":{"datum":-2},"y":{"datum":0.636},"text":{"field":"c"}}}]}}]}]}
